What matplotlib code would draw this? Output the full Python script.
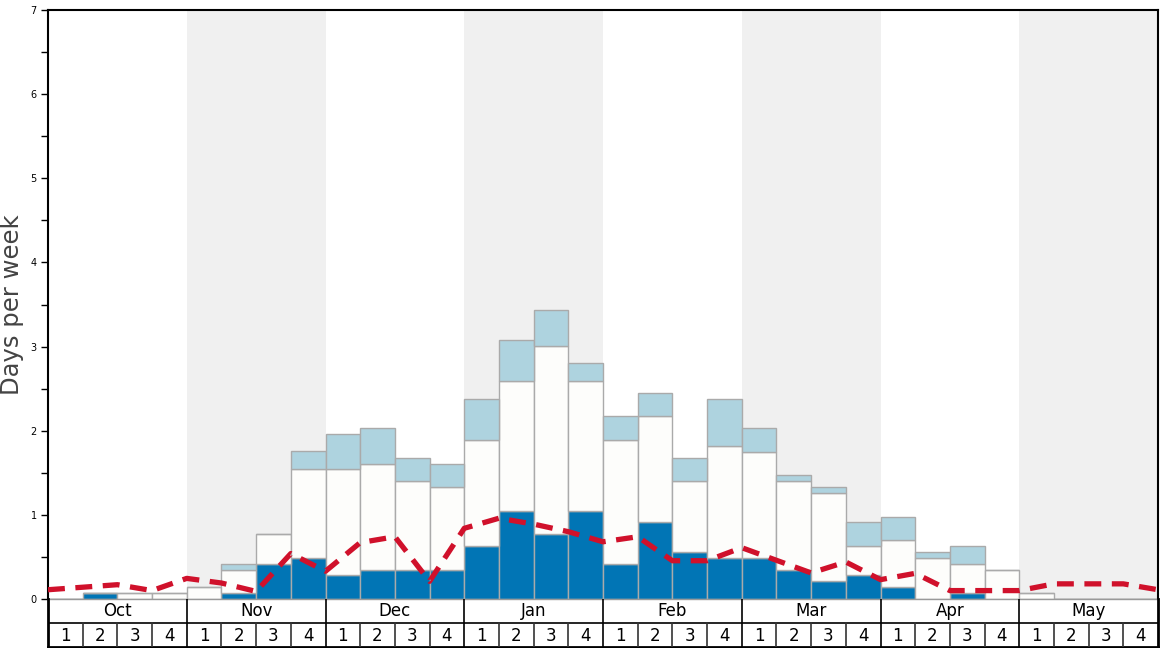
import numpy as np
import matplotlib
matplotlib.use('Agg')
import matplotlib.pyplot as plt

months = ['Oct', 'Nov', 'Dec', 'Jan', 'Feb', 'Mar', 'Apr', 'May']
week_labels = ['1', '2', '3', '4']

# stacked parts (days per week)
dark = [0, 0.07, 0, 0,
        0, 0.07, 0.42, 0.49,
        0.28, 0.35, 0.35, 0.35,
        0.63, 1.05, 0.77, 1.05,
        0.42, 0.91, 0.56, 0.49,
        0.49, 0.35, 0.21, 0.28,
        0.14, 0, 0.07, 0,
        0, 0, 0, 0]
mid_top = [0, 0.07, 0.07, 0.07,
           0.14, 0.35, 0.77, 1.54,
           1.54, 1.61, 1.40, 1.33,
           1.89, 2.59, 3.01, 2.59,
           1.89, 2.17, 1.40, 1.82,
           1.75, 1.40, 1.26, 0.63,
           0.70, 0.49, 0.42, 0.35,
           0.07, 0, 0, 0]
total = [0, 0.07, 0.07, 0.07,
         0.14, 0.42, 0.77, 1.76,
         1.96, 2.03, 1.68, 1.61,
         2.38, 3.08, 3.43, 2.80,
         2.17, 2.45, 1.68, 2.38,
         2.03, 1.47, 1.33, 0.91,
         0.98, 0.56, 0.63, 0.35,
         0.07, 0, 0, 0]
# dashed average line, one value per week boundary
avg = [0.11, 0.14, 0.17, 0.10,
       0.245, 0.19, 0.09, 0.54,
       0.33, 0.67, 0.74, 0.21,
       0.84, 0.96, 0.89, 0.80,
       0.68, 0.74, 0.455, 0.455,
       0.61, 0.46, 0.31, 0.44,
       0.23, 0.305, 0.10, 0.10,
       0.10, 0.18, 0.18, 0.18,
       0.11]

dark = np.array(dark)
mid_top = np.array(mid_top)
total = np.array(total)
n = len(dark)
x = np.arange(n)

W, H = 1168, 648
fig = plt.figure(figsize=(W / 100, H / 100), dpi=100)
ax = fig.add_axes([48 / W, (H - 599) / H, 1110 / W, 589 / H])

# month shading
for m in range(len(months)):
    if m % 2 == 1:
        ax.axvspan(m * 4 - 0.5, m * 4 + 3.5, color='#f0f0f0', lw=0, zorder=0)

edge = '#aaaaaa'
ax.bar(x, dark, width=1, color='#0175b5', edgecolor=edge, lw=1, zorder=2)
ax.bar(x, mid_top - dark, bottom=dark, width=1, color='#fdfdfb', edgecolor=edge, lw=1, zorder=2)
ax.bar(x, total - mid_top, bottom=mid_top, width=1, color='#aed3df', edgecolor=edge, lw=1, zorder=2)

ax.plot(np.arange(n + 1) - 0.5, avg, color='#d0112b', lw=3.8, ls=(0, (3.2, 2.0)), zorder=3,
        dash_capstyle='butt')

ax.set_xlim(-0.5, n - 0.5)
ax.set_ylim(0, 7)
ax.set_xticks([])
ax.set_yticks(range(8))
ax.set_yticks(np.arange(0.5, 7, 1), minor=True)
ax.tick_params(axis='y', labelsize=7, length=5, width=1, pad=3)
ax.tick_params(axis='y', which='minor', length=5, width=1)
for s in ['top', 'left', 'right']:
    ax.spines[s].set_linewidth(1.5)
ax.spines['bottom'].set_color('#999999')
ax.spines['bottom'].set_linewidth(1)
fig.text(12 / W, 1 - 305 / H, 'Days per week', rotation=90, fontsize=17.5,
         color='#444444', ha='center', va='center')

# month / week rows under the plot
ax2 = fig.add_axes([48 / W, (H - 647) / H, 1110 / W, 48 / H])
ax2.set_xlim(-0.5, n - 0.5)
ax2.set_ylim(0, 2)
ax2.axis('off')
ax2.plot([-0.5, n - 0.5], [1, 1], color='black', lw=1.2)
ax2.plot([-0.5, n - 0.5], [0, 0], color='black', lw=2, clip_on=False)
ax2.plot([-0.5, -0.5], [0, 2], color='black', lw=2, clip_on=False)
ax2.plot([n - 0.5, n - 0.5], [0, 2], color='black', lw=2, clip_on=False)
for m, name in enumerate(months):
    ax2.text(m * 4 + 1.5, 1.5, name, ha='center', va='center', fontsize=12)
    if m > 0:
        ax2.plot([m * 4 - 0.5] * 2, [0, 2], color='black', lw=1.2)
    for k, wl in enumerate(week_labels):
        i = m * 4 + k
        ax2.text(i, 0.46, wl, ha='center', va='center', fontsize=12)
        if k > 0:
            ax2.plot([i - 0.5] * 2, [0, 1], color='#333333', lw=1.2)

fig.savefig('out.png', dpi=100)
